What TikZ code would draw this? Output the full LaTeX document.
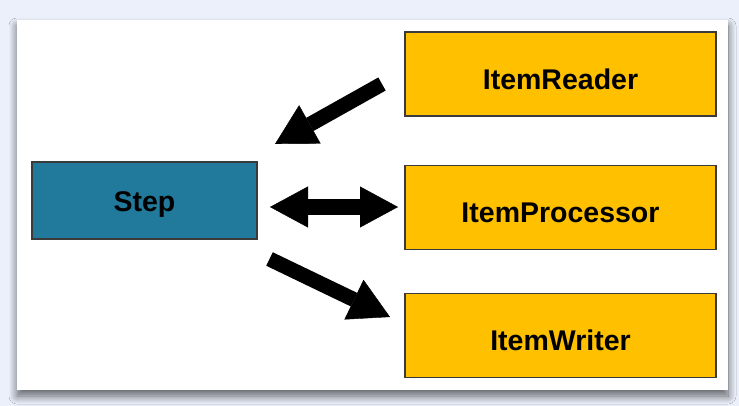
\documentclass[tikz,border=0pt]{standalone}
\usepackage{fontspec}
\setmainfont{Liberation Sans}
\usetikzlibrary{arrows.meta,shadows.blur}
\definecolor{bgblue}{HTML}{EBF0FA}
\definecolor{stepblue}{HTML}{217A9B}
\definecolor{itemyellow}{HTML}{FFC000}
\definecolor{edgegray}{HTML}{3A3A3A}
\tikzset{
  boxfont/.style={font=\fontsize{28.5}{31}\selectfont\bfseries},
  stepbox/.style={draw=edgegray, line width=1.2pt, fill=stepblue, minimum width=225pt, minimum height=77pt, inner sep=0pt, boxfont, text height=21.5pt, text depth=0pt},
  itembox/.style={draw=edgegray, line width=1.2pt, fill=itemyellow, minimum width=311pt, minimum height=84pt, inner sep=0pt, boxfont, text height=30.5pt, text depth=0pt},
  tiphead/.style={Triangle[length=40pt,width=44pt,line width=0.4pt,fill=black,color=black]},
  blockarrow/.style={draw=black, fill opacity=1, draw opacity=1, line width=15pt, -{Triangle[length=40pt,width=44pt,line width=0.4pt,fill=black]}},
  dblockarrow/.style={draw=black, fill opacity=1, draw opacity=1, line width=16pt, {Triangle[length=38pt,width=41pt,line width=0.4pt,fill=black]}-{Triangle[length=38pt,width=41pt,line width=0.4pt,fill=black]}}
}
\begin{document}
\begin{tikzpicture}[x=1pt,y=-1pt]
\useasboundingbox (0,0) rectangle (739,406);
\fill[bgblue] (0,0) rectangle (739,406);
\begin{scope}
\fill[white, blur shadow={shadow xshift=0pt, shadow yshift=-6pt, shadow blur radius=8pt, shadow blur steps=14, shadow opacity=60}] (17,20) rectangle (728,390);
\end{scope}
\node[stepbox] (step) at (144.5,200.5) {Step};
\node[itembox] (reader) at (560.5,74) {ItemReader};
\node[itembox] (proc) at (560.5,207.5) {ItemProcessor};
\node[itembox] (writer) at (560.5,335.5) {ItemWriter};
\coordinate (rtail) at (382,84);
\coordinate (rtip) at (275,144);
\coordinate (ptipl) at (270,207);
\coordinate (ptipr) at (398,207);
\coordinate (wtail) at (269.5,259);
\coordinate (wtip) at (390,317);
\draw[blockarrow] (rtail) -- (rtip);
\draw[dblockarrow] (ptipl) -- (ptipr);
\draw[blockarrow] (wtail) -- (wtip);
\end{tikzpicture}
\end{document}
